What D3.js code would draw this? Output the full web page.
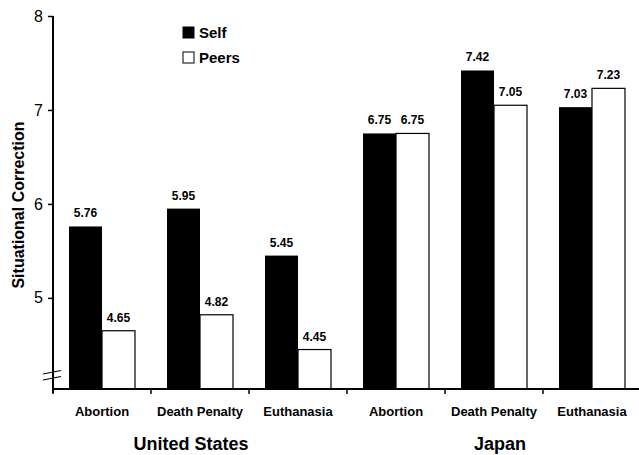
<!DOCTYPE html>
<html>
<head>
<meta charset="utf-8">
<script src="https://cdn.jsdelivr.net/npm/d3@7"></script>
<style>
  body { margin: 0; background: #fff; }
  text { font-family: "Liberation Sans", Arial, sans-serif; fill: #000; }
</style>
</head>
<body>
<svg width="639" height="455"></svg>
<script>
// dados
var countries = ["United States", "Japan"];
var topics = ["Abortion", "Death Penalty", "Euthanasia"];
var series = ["Self", "Peers"];
var selfValues = [5.76, 5.95, 5.45, 6.75, 7.42, 7.03];
var peerValues = [4.65, 4.82, 4.45, 6.75, 7.05, 7.23];
var yTicks = [5, 6, 7, 8];

// montar tabela a partir dos arrays
var data = [];
countries.forEach(function(c, i) {
  topics.forEach(function(t, j) {
    var k = i * topics.length + j;
    data.push({key: c + "|" + t, country: c, topic: t, Self: selfValues[k], Peers: peerValues[k]});
  });
});

var svg = d3.select("svg");

// escalas
var x0 = d3.scaleBand()
    .domain(data.map(function(d) { return d.key; }))
    .range([53, 641])
    .padding(0);

var x1 = d3.scaleBand()
    .domain(series)
    .range([0, x0.bandwidth()])
    .paddingInner(0)
    .paddingOuter(0.485);

var y = d3.scaleLinear()
    .domain([4.03, 8])
    .range([389, 16]);

var color = d3.scaleOrdinal().domain(series).range(["#000", "#fff"]);

// barras
var groups = svg.selectAll("g.grp")
    .data(data)
  .enter().append("g")
    .attr("class", "grp")
    .attr("transform", function(d) { return "translate(" + x0(d.key) + ",0)"; });

groups.selectAll("rect")
    .data(function(d) { return series.map(function(s) { return {s: s, v: d[s]}; }); })
  .enter().append("rect")
    .attr("x", function(d) { return x1(d.s); })
    .attr("y", function(d) { return y(d.v); })
    .attr("width", x1.bandwidth())
    .attr("height", function(d) { return y.range()[0] - y(d.v); })
    .style("fill", function(d) { return color(d.s); })
    .style("stroke", function(d) { return d.s == "Peers" ? "#000" : "none"; })
    .style("stroke-width", 1.2);

// rótulos de valor
groups.selectAll("text.val")
    .data(function(d) { return series.map(function(s) { return {s: s, v: d[s]}; }); })
  .enter().append("text")
    .attr("class", "val")
    .attr("x", function(d) { return x1(d.s) + x1.bandwidth() / 2; })
    .attr("y", function(d) { return y(d.v) - 9; })
    .attr("text-anchor", "middle")
    .style("font-size", "12px")
    .style("font-weight", "bold")
    .text(function(d) { return d.v.toFixed(2); });

// eixo y
var yAxis = svg.append("g")
    .attr("transform", "translate(53,0)")
    .call(d3.axisLeft(y).tickValues(yTicks).tickSize(5).tickPadding(5).tickSizeOuter(0).tickFormat(d3.format("d")));
yAxis.select(".domain").attr("stroke-width", 2).attr("d", "M0," + y(8) + "V" + (y.range()[0] + 4));
yAxis.selectAll(".tick line").attr("stroke-width", 1.5);
yAxis.selectAll(".tick text")
    .style("font-family", "'Liberation Sans', Arial, sans-serif")
    .style("font-size", "16px");

// marca de quebra do eixo
[0, 6].forEach(function(dy) {
  svg.append("line")
      .attr("x1", 43).attr("y1", 374 + dy)
      .attr("x2", 61).attr("y2", 370.5 + dy)
      .attr("stroke", "#000").attr("stroke-width", 1.2);
});

// eixo x
svg.append("line")
    .attr("x1", 52).attr("x2", 639)
    .attr("y1", 389).attr("y2", 389)
    .attr("stroke", "#000").attr("stroke-width", 2);

svg.selectAll("line.xt")
    .data(data)
  .enter().append("line")
    .attr("class", "xt")
    .attr("x1", function(d) { return x0(d.key); })
    .attr("x2", function(d) { return x0(d.key); })
    .attr("y1", 389).attr("y2", 394)
    .attr("stroke", "#000").attr("stroke-width", 1.5);

svg.selectAll("text.cat")
    .data(data)
  .enter().append("text")
    .attr("class", "cat")
    .attr("x", function(d) { return x0(d.key) + x0.bandwidth() / 2; })
    .attr("y", 416)
    .attr("text-anchor", "middle")
    .style("font-size", "13px")
    .style("font-weight", "bold")
    .text(function(d) { return d.topic; });

// rótulos dos países
var countryOffset = [-9, 6];
svg.selectAll("text.country")
    .data(countries)
  .enter().append("text")
    .attr("class", "country")
    .attr("x", function(c, i) { return x0(c + "|" + topics[1]) + x0.bandwidth() / 2 + countryOffset[i]; })
    .attr("y", 450)
    .attr("text-anchor", "middle")
    .style("font-size", "18px")
    .style("font-weight", "bold")
    .text(function(c) { return c; });

// título do eixo y
svg.append("text")
    .attr("transform", "translate(24,205) rotate(-90)")
    .attr("text-anchor", "middle")
    .style("font-size", "16px")
    .style("font-weight", "bold")
    .text("Situational Correction");

// legenda
var legend = svg.selectAll("g.leg")
    .data(series)
  .enter().append("g")
    .attr("class", "leg")
    .attr("transform", function(d, i) { return "translate(183," + (27 + i * 25) + ")"; });

legend.append("rect")
    .attr("width", 11).attr("height", 11)
    .style("fill", function(d) { return color(d); })
    .style("stroke", "#000").style("stroke-width", 1);

legend.append("text")
    .attr("x", 16).attr("y", 11)
    .style("font-size", "15px")
    .style("font-weight", "bold")
    .text(function(d) { return d; });
</script>
</body>
</html>
